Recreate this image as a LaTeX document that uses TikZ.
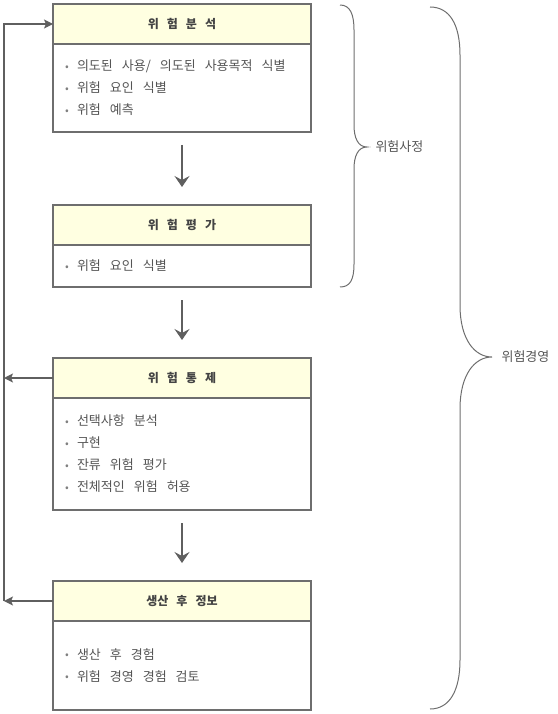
\documentclass[tikz,border=0pt]{standalone}
\usepackage{fontspec}
\setmainfont{Noto Sans CJK KR}
\usetikzlibrary{positioning,arrows.meta}
\definecolor{boxline}{HTML}{6E6E6E}
\definecolor{headfill}{HTML}{FFFFE1}
\definecolor{txtgray}{HTML}{555555}
\definecolor{arrowgray}{HTML}{5F5F5F}
\newcommand{\itm}[1]{\makebox[12pt][l]{\color{gray}\raisebox{0.6pt}{\fontsize{11}{11}\selectfont\textbullet}}#1}
\newcommand{\widesp}[1]{\setlength{\spaceskip}{#1}}

\begin{document}
\begin{tikzpicture}[
    x=1pt, y=-1pt,
    every node/.style={font=\fontsize{13}{22}\selectfont, text=txtgray, execute at begin node={\widesp{9pt}}},
    headbox/.style={rectangle, draw=boxline, fill=headfill, line width=1.2pt, minimum width=258pt, minimum height=40pt, outer sep=0pt, font=\fontsize{12}{13}\selectfont\bfseries, text=txtgray!80!black, execute at begin node={\widesp{8pt}}},
    bodybox/.style={rectangle, draw=boxline, fill=white, line width=1.2pt, minimum width=258pt, text width=234pt, inner xsep=12pt, align=left, outer sep=0pt},
    flow/.style={-{Stealth[length=11pt, width=15pt, inset=4pt]}, draw=arrowgray, line width=1.3pt, shorten <=13pt, shorten >=18pt},
    back/.style={-{Stealth[length=9pt, width=9pt, inset=2pt]}, draw=arrowgray, line width=1.2pt},
    brace/.style={draw=boxline, line width=1pt}
]
    \useasboundingbox (0,0) rectangle (557,714);

    % Step 1: analysis
    \node[headbox] (hA) at (182,24) {위 험 분 석};
    \node[bodybox, minimum height=88pt, below=0pt of hA] (bA) {\itm{의도된 사용/ 의도된 사용목적 식별}\\ \itm{위험 요인 식별}\\ \itm{위험 예측}};

    % Step 2: evaluation
    \node[headbox] (hB) at (182,225) {위 험 평 가};
    \node[bodybox, minimum height=42pt, below=0pt of hB] (bB) {\itm{위험 요인 식별}};

    % Step 3: control
    \node[headbox] (hC) at (182,378) {위 험 통 제};
    \node[bodybox, minimum height=112pt, below=0pt of hC] (bC) {\itm{선택사항 분석}\\ \itm{구현}\\ \itm{잔류 위험 평가}\\ \itm{전체적인 위험 허용}};

    % Step 4: post-production
    \node[headbox] (hD) at (182,601) {생산 후 정보};
    \node[bodybox, minimum height=89pt, below=0pt of hD] (bD) {\itm{생산 후 경험}\\ \itm{위험 경영 경험 검토}};

    % Downward flow
    \draw[flow] (bA.south) -- (hB.north);
    \draw[flow] (bB.south) -- (hC.north);
    \draw[flow] (bC.south) -- (hD.north);

    % Feedback loop on the left
    \coordinate (loopTop) at (4,24);
    \coordinate (loopBot) at (4,601);
    \draw[back] (hD.west) -- (loopBot);
    \draw[back] (hC.west) -- (hC.west -| loopBot);
    \draw[back] (loopBot) -- (loopTop) -- (hA.west);

    % Braces on the right
    \draw[brace] (340,5) .. controls (350,5) and (354,14) .. (354,30) -- (354,125)
        .. controls (354,138) and (358,147) .. (367,147)
        .. controls (358,147) and (354,156) .. (354,169) -- (354,264)
        .. controls (354,280) and (350,287) .. (340,287);
    \node[anchor=west] (lblA) at (372,147) {위험사정};

    \draw[brace] (430,7) .. controls (450,7) and (460,25) .. (460,55) -- (460,305)
        .. controls (460,340) and (475,357) .. (492,357)
        .. controls (475,357) and (460,374) .. (460,409) -- (460,660)
        .. controls (460,690) and (450,709) .. (430,709);
    \node[anchor=west] (lblB) at (498,357) {위험경영};
\end{tikzpicture}
\end{document}
